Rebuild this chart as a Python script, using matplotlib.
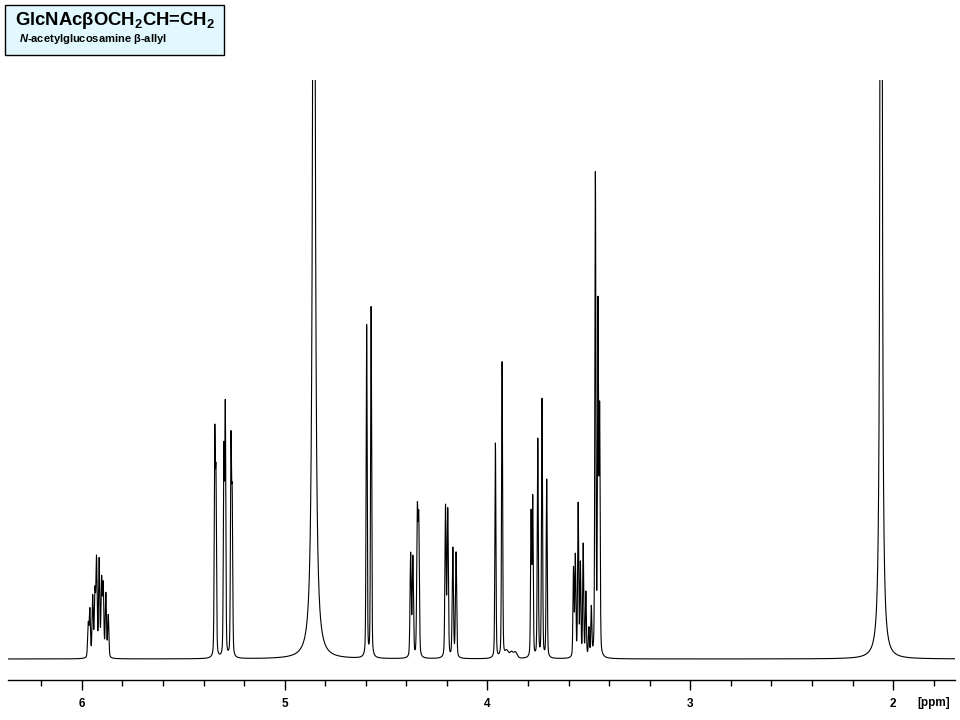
import numpy as np
import matplotlib.pyplot as plt
from matplotlib.ticker import MultipleLocator

plt.rcParams['font.family'] = ['Liberation Sans', 'DejaVu Sans']
plt.rcParams['mathtext.fontset'] = 'custom'
plt.rcParams['mathtext.rm'] = 'Liberation Sans:bold'
plt.rcParams['mathtext.it'] = 'Liberation Sans:bold:italic'
plt.rcParams['mathtext.bf'] = 'Liberation Sans:bold'

# peak lists: shift (ppm), height (px above baseline)
ch_ppm = [5.969, 5.961, 5.947, 5.936, 5.928, 5.915, 5.903, 5.895, 5.882, 5.870]
ch_h = [33, 47, 60, 63, 96, 96, 75, 70, 63, 42]

ch2_ppm = [5.345, 5.339, 5.300, 5.293, 5.265, 5.259]
ch2_h = [215, 170, 200, 245, 210, 150]

hdo_ppm = [4.856]
hdo_h = [1340]

h1_ppm = [4.596, 4.574]
h1_h = [332, 350]

och2a_ppm = [4.379, 4.368, 4.346, 4.339]
och2a_h = [103, 99, 141, 132]

och2b_ppm = [4.207, 4.196, 4.171, 4.155]
och2b_h = [150, 146, 109, 105]

h2_ppm = [3.961, 3.928]
h2_h = [215, 296]

m1_ppm = [3.785, 3.777, 3.752, 3.731, 3.708]
m1_h = [142, 157, 218, 258, 178]

m2_ppm = [3.576, 3.567, 3.553, 3.542, 3.528, 3.515, 3.500, 3.488]
m2_h = [88, 100, 152, 92, 112, 64, 28, 48]

h5_ppm = [3.468, 3.455, 3.447]
h5_h = [480, 345, 240]

nac_ppm = [2.059]
nac_h = [3000]

hump_ppm = [3.905, 3.882, 3.862]
hump_h = [7, 6, 6]

title = 'GlcNAc\u03b2OCH$_2$CH=CH$_2$'
subtitle = '$\\mathit{N}$-acetylglucosamine \u03b2-allyl'

x_left, x_right = 6.3645, 1.6946

# (shifts, heights, half width in ppm, lorentzian fraction)
groups = [
    (ch_ppm, ch_h, 0.0035, 0.3),
    (ch2_ppm, ch2_h, 0.0030, 0.3),
    (hdo_ppm, hdo_h, 0.0058, 1.0),
    (h1_ppm, h1_h, 0.0030, 0.3),
    (och2a_ppm, och2a_h, 0.0035, 0.3),
    (och2b_ppm, och2b_h, 0.0035, 0.3),
    (h2_ppm, h2_h, 0.0030, 0.3),
    (m1_ppm, m1_h, 0.0030, 0.3),
    (m2_ppm, m2_h, 0.0030, 0.3),
    (h5_ppm, h5_h, 0.0030, 0.3),
    (nac_ppm, nac_h, 0.0030, 1.0),
    (hump_ppm, hump_h, 0.0100, 0.3),
]

x = np.linspace(x_left, x_right, 30000)
y = np.zeros_like(x)
for pos, hts, g, eta in groups:
    for p, h in zip(pos, hts):
        d2 = ((x - p) / g) ** 2
        y += h * (eta / (1 + d2) + (1 - eta) * np.exp(-np.log(2) * d2))

fig = plt.figure(figsize=(9.6, 7.2), dpi=100)
ax = fig.add_axes([8 / 960, 40 / 720, 947 / 960, 600 / 720])
ax.plot(x, y, color='black', lw=0.8)
ax.set_xlim(x_left, x_right)
ax.set_ylim(-21, 579)

for s in ['top', 'left', 'right']:
    ax.spines[s].set_visible(False)
ax.spines['bottom'].set_linewidth(1.0)
ax.set_yticks([])
ax.xaxis.set_major_locator(MultipleLocator(1))
ax.xaxis.set_minor_locator(MultipleLocator(0.2))
ax.xaxis.set_major_formatter(lambda v, pos: f'{v:.0f}')
ax.tick_params(axis='x', which='major', length=7, width=1.0, pad=6,
               labelsize=8.5)
ax.tick_params(axis='x', which='minor', length=4, width=1.0)
for lab in ax.get_xticklabels():
    lab.set_fontweight('bold')

fig.text(917 / 960, 1 - 703 / 720, '[ppm]', fontsize=8.5, fontweight='bold',
         va='center', ha='left')

# label box
fig.patches.append(plt.Rectangle((5 / 960, 1 - 55 / 720), 219 / 960, 50 / 720,
                                 transform=fig.transFigure, facecolor='#e0f8fe',
                                 edgecolor='black', lw=1.0))
fig.text(15 / 960, 1 - 25 / 720, title, fontsize=13.3, fontweight='bold',
         va='baseline', ha='left')
fig.text(19 / 960, 1 - 42 / 720, subtitle, fontsize=8.0, fontweight='bold',
         va='baseline', ha='left')

fig.savefig('out.png', dpi=100)
